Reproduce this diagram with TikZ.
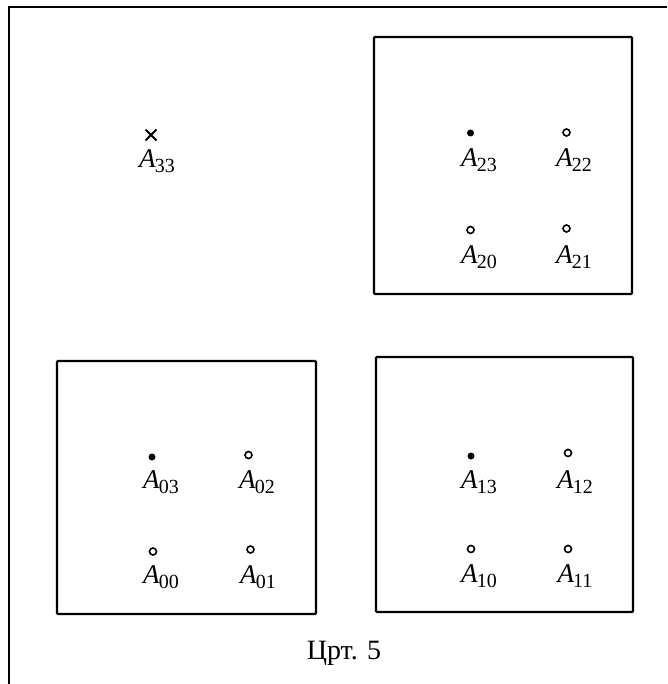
\documentclass[tikz,border=0pt]{standalone}
\usepackage{fontspec}
\setmainfont{Liberation Serif}
\usetikzlibrary{shapes.misc}
\newcommand\Alab[1]{\textit{A}\kern-1pt\raisebox{-5pt}{\fontsize{20}{20}\selectfont #1}}
\begin{document}
\begin{tikzpicture}[x=1pt,y=-1pt,
  frame/.style={line width=2.4pt},
  box/.style={draw, line width=2.2pt, rounded corners=1pt},
  fdot/.style={circle, fill=black, inner sep=0pt, minimum size=7pt},
  odot/.style={circle, draw=black, line width=1.6pt, fill=white, inner sep=0pt, minimum size=7pt},
  xmark/.style={cross out, draw=black, line width=2pt, inner sep=0pt, minimum size=9pt},
  lbl/.style={font=\fontsize{27}{28}\selectfont, inner sep=0pt},
  caption/.style={font=\fontsize{28}{29}\selectfont, inner sep=0pt, anchor=base}
]
\useasboundingbox (0,0) rectangle (667,684);
% outer frame (only left and top visible)
\coordinate (fbl) at (9,684);
\coordinate (ftl) at (9,7);
\coordinate (ftr) at (667,7);
\draw[frame] (fbl) -- (ftl) -- (ftr);

% boxes
\draw[box] (374,37) rectangle (632,294);
\draw[box] (376,357) rectangle (633,612);
\draw[box] (57,361) rectangle (316,614);

% A33
\node[xmark] (p33) at (151,135) {};
\node[lbl] (l33) at (157,161) {\Alab{33}};

% top-right box
\node[fdot] (p23) at (470.5,133) {};
\node[lbl] (l23) at (479,160) {\Alab{23}};
\node[odot] (p22) at (566.5,132.5) {};
\node[lbl] (l22) at (574,160) {\Alab{22}};
\node[odot] (p20) at (470.5,230) {};
\node[lbl] (l20) at (479,257) {\Alab{20}};
\node[odot] (p21) at (566.5,228.5) {};
\node[lbl] (l21) at (574,257) {\Alab{21}};

% bottom-left box
\node[fdot] (p03) at (152,457) {};
\node[lbl] (l03) at (161,482) {\Alab{03}};
\node[odot] (p02) at (248.5,455) {};
\node[lbl] (l02) at (257,482) {\Alab{02}};
\node[odot] (p00) at (153,551.5) {};
\node[lbl] (l00) at (161,577) {\Alab{00}};
\node[odot] (p01) at (250.5,549.5) {};
\node[lbl] (l01) at (258,577) {\Alab{01}};

% bottom-right box
\node[fdot] (p13) at (471,456) {};
\node[lbl] (l13) at (479,482) {\Alab{13}};
\node[odot] (p12) at (568,453) {};
\node[lbl] (l12) at (575,482) {\Alab{12}};
\node[odot] (p10) at (471,549) {};
\node[lbl] (l10) at (479,576) {\Alab{10}};
\node[odot] (p11) at (568,549) {};
\node[lbl] (l11) at (575,576) {\Alab{11}};

% caption
\node[caption] (cap) at (344,659) {Црт. 5};
\end{tikzpicture}
\end{document}
